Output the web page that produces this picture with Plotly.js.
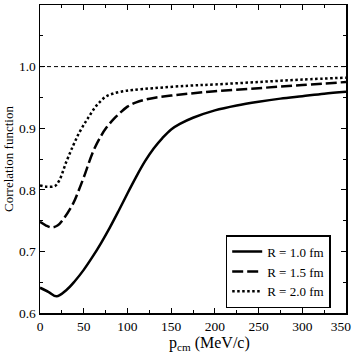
<!DOCTYPE html>
<html>
<head>
<meta charset="utf-8">
<script src="https://cdn.plot.ly/plotly-3.0.1.min.js"></script>
<style>
  html, body { margin: 0; padding: 0; background: #fff; }
  #chart { width: 354px; height: 354px; }
</style>
</head>
<body>
<div id="chart"></div>
<script>
// p_cm in MeV/c
var p_r10 = [0, 10, 19, 30, 40, 50, 60, 70, 80, 90, 100, 110, 120, 130, 140, 150, 160, 175, 200, 225, 250, 275, 300, 325, 350];
var c_r10 = [0.641, 0.634, 0.627, 0.637, 0.652, 0.670, 0.691, 0.714, 0.739, 0.766, 0.794, 0.821, 0.846, 0.867, 0.884, 0.898, 0.907, 0.917, 0.929, 0.937, 0.943, 0.948, 0.952, 0.956, 0.959];

var p_r15 = [0, 7, 13, 20, 28, 38, 44, 50, 61, 70, 76, 85, 91, 100, 110, 122, 133, 150, 170, 200, 250, 300, 350];
var c_r15 = [0.748, 0.742, 0.739, 0.742, 0.755, 0.778, 0.798, 0.820, 0.863, 0.888, 0.901, 0.916, 0.924, 0.935, 0.942, 0.947, 0.950, 0.953, 0.956, 0.960, 0.965, 0.970, 0.975];

var p_r20 = [0, 8, 17, 22, 30, 38, 45, 52, 57, 63, 68, 75, 83, 95, 106, 130, 170, 200, 250, 300, 350];
var c_r20 = [0.807, 0.805, 0.806, 0.815, 0.845, 0.872, 0.893, 0.910, 0.921, 0.934, 0.942, 0.951, 0.956, 0.960, 0.962, 0.965, 0.969, 0.971, 0.975, 0.979, 0.982];

var refX = [0, 350];
var refY = [1.0, 1.0];

var xTicks = [0, 50, 100, 150, 200, 250, 300, 350];
// last label padded with an invisible tail so it is pulled left, inside the page
var pad = '<span style="color:rgba(0,0,0,0)"> 0</span>';
var xTickText = ['0', '50', '100', '150', '200', '250', '300', '350' + pad];
var yTicks = [0.6, 0.7, 0.8, 0.9, 1.0, 1.1];

var serif = 'Liberation Serif, Times New Roman, serif';

var traces = [
  {
    x: refX, y: refY, mode: 'lines', showlegend: false, hoverinfo: 'skip',
    line: { color: 'black', width: 1, dash: '4px,3px' }
  },
  {
    x: p_r10, y: c_r10, mode: 'lines', name: 'R = 1.0 fm',
    line: { color: 'black', width: 2.5, shape: 'spline' }
  },
  {
    x: p_r15, y: c_r15, mode: 'lines', name: 'R = 1.5 fm',
    line: { color: 'black', width: 2.5, dash: '11px,4px', shape: 'spline' }
  },
  {
    x: p_r20, y: c_r20, mode: 'lines', name: 'R = 2.0 fm',
    line: { color: 'black', width: 2.5, dash: '2.5px,2.5px', shape: 'spline' }
  }
];

var axisCommon = {
  showgrid: false,
  zeroline: false,
  showline: true,
  linecolor: 'black',
  linewidth: 1.5,
  mirror: 'ticks',
  ticks: 'inside',
  ticklen: 5,
  tickwidth: 1.2,
  tickcolor: 'black',
  tickfont: { family: serif, size: 13.5, color: 'black' }
};

var layout = {
  width: 354,
  height: 354,
  paper_bgcolor: 'white',
  plot_bgcolor: 'white',
  margin: { l: 40, r: 8, t: 5, b: 41 },
  font: { family: serif, color: 'black' },
  xaxis: Object.assign({}, axisCommon, {
    range: [0, 350],
    tickvals: xTicks,
    ticktext: xTickText,
    ticklabeloverflow: 'allow',
    minor: { dtick: 25, tick0: 0, ticks: 'inside', ticklen: 3, tickwidth: 1, tickcolor: 'black', showgrid: false }
  }),
  yaxis: Object.assign({}, axisCommon, {
    range: [0.6, 1.1],
    tickvals: yTicks,
    tickformat: '.1f',
    minor: { dtick: 0.05, tick0: 0.6, ticks: 'inside', ticklen: 3, tickwidth: 1, tickcolor: 'black', showgrid: false },
    title: { text: 'Correlation function', font: { family: serif, size: 13 }, standoff: 2 }
  }),
  // x title sits just under the tick labels, as in the original
  annotations: [{
    text: 'p<sub>cm</sub> (MeV/c)',
    xref: 'paper', yref: 'paper', x: 0.555, y: 0,
    xanchor: 'center', yanchor: 'top', yshift: -19,
    showarrow: false,
    font: { family: serif, size: 16, color: 'black' }
  }],
  showlegend: true,
  legend: {
    x: 0.95, y: 0.016, xanchor: 'right', yanchor: 'bottom',
    bordercolor: 'black', borderwidth: 1.5, bgcolor: 'white',
    font: { family: serif, size: 13, color: 'black' },
    itemwidth: 30,
    tracegroupgap: 0
  }
};

Plotly.newPlot('chart', traces, layout, { displayModeBar: false, staticPlot: true });
</script>
</body>
</html>
